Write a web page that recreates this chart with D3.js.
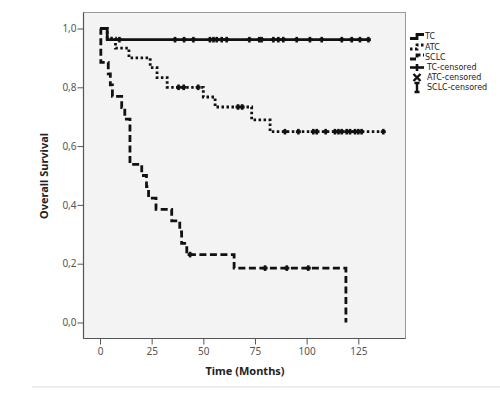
<!DOCTYPE html>
<html><head><meta charset="utf-8">
<script src="https://cdn.jsdelivr.net/npm/d3@7"></script>
<style>html,body{margin:0;padding:0;background:#fff;}svg{display:block;}</style>
</head><body>
<svg id="c" width="500" height="393"></svg>
<script>
// ---- data ----
const xTicks = [0, 25, 50, 75, 100, 125];
const yTicks = [0, 0.2, 0.4, 0.6, 0.8, 1.0];
const legendLabels = ["TC", "ATC", "SCLC", "TC-censored", "ATC-censored", "SCLC-censored"];

const tcTimes = [0, 3.5];
const tcSurv  = [1, 0.962];
const tcEnd   = 130;
const tcCensor = [9.4, 36.3, 40.7, 45.2, 53.2, 54.9, 56.5, 58.9, 61.3, 72.3, 77.1, 78.2, 83.9, 86.3, 88.7, 95.2, 101.6, 107.3, 117, 121.8, 125.8, 129.9];

const atcTimes = [0, 3.5, 7.5, 14, 24.3, 27.6, 32.5, 50, 55.7, 73.4, 82.3];
const atcSurv  = [1, 0.967, 0.933, 0.9, 0.867, 0.833, 0.8, 0.767, 0.733, 0.689, 0.649];
const atcEnd   = 138;
const atcCensor = [38, 40.5, 47.5, 66.8, 68.8, 89.5, 96, 103.2, 104.9, 109.2, 113.7, 115.4, 117, 119.4, 121, 123.4, 125, 126.6, 137.1];

const sclcTimes = [0, 0.4, 4, 5, 6, 10.5, 12, 14.5, 20.2, 22.5, 23.5, 27.1, 34.7, 38.6, 39.5, 42, 64.9, 119];
const sclcSurv  = [1, 0.885, 0.846, 0.808, 0.769, 0.731, 0.692, 0.538, 0.5, 0.462, 0.423, 0.385, 0.346, 0.308, 0.269, 0.231, 0.185, 0];
const sclcEnd   = 119;
const sclcCensor = [43.6, 79.9, 90.4, 100.8];

// ---- layout ----
const svg = d3.select("#c");
const frame = {l: 83.5, t: 12.5, r: 405.5, b: 338.5};
const x = d3.scaleLinear().domain([0, 125]).range([100, 358.3]);
const y = d3.scaleLinear().domain([0, 1]).range([322.5, 28.5]);
const font = "'Noto Sans', 'DejaVu Sans', sans-serif";
const legendFont = "'DejaVu Sans', sans-serif";

svg.append("rect").attr("x", frame.l).attr("y", frame.t)
  .attr("width", frame.r - frame.l).attr("height", frame.b - frame.t)
  .attr("fill", "#f3f3f3").attr("stroke", "#9a9a9a").attr("stroke-width", 1);
svg.append("line").attr("x1", frame.l).attr("x2", frame.l).attr("y1", frame.t).attr("y2", frame.b)
  .attr("stroke", "#555").attr("stroke-width", 1.2);
svg.append("line").attr("x1", frame.l).attr("x2", frame.r).attr("y1", frame.b).attr("y2", frame.b)
  .attr("stroke", "#555").attr("stroke-width", 1.2);

// axes
const yAxis = d3.axisLeft(y).tickValues(yTicks).tickSize(6).tickPadding(1)
  .tickFormat(d => d3.format(".1f")(d).replace(".", ","));
const gy = svg.append("g").attr("transform", `translate(${frame.l},0)`).call(yAxis);
const xAxis = d3.axisBottom(x).tickValues(xTicks).tickSize(6).tickPadding(3);
const gx = svg.append("g").attr("transform", `translate(0,${frame.b})`).call(xAxis);
[gx, gy].forEach(g => {
  g.select(".domain").remove();
  g.selectAll(".tick line").attr("stroke", "#555");
  g.selectAll(".tick text").attr("fill", "#555").style("font-family", font).style("font-size", "10px");
});

svg.append("text").attr("x", 245).attr("y", 375).attr("text-anchor", "middle")
  .style("font-family", font).style("font-size", "11px").style("font-weight", "bold").attr("fill", "#222")
  .text("Time (Months)");
svg.append("text").attr("transform", "translate(48,176) rotate(-90)").attr("text-anchor", "middle")
  .style("font-family", font).style("font-size", "11px").style("font-weight", "bold").attr("fill", "#222")
  .text("Overall Survival");

svg.append("line").attr("x1", 32).attr("x2", 500).attr("y1", 387).attr("y2", 387)
  .attr("stroke", "#dcdcdc").attr("stroke-width", 1);

// curves
const line = d3.line().x(d => x(d[0])).y(d => y(d[1])).curve(d3.curveStepAfter);
function pts(times, surv, end) {
  const p = times.map((t, i) => [t, surv[i]]);
  p.push([end, surv[surv.length - 1]]);
  return p;
}
function survAt(times, surv, t) {
  let s = surv[0];
  for (let i = 0; i < times.length; i++) if (times[i] <= t) s = surv[i];
  return s;
}
const series = [
  {times: tcTimes, surv: tcSurv, end: tcEnd, dash: null},
  {times: atcTimes, surv: atcSurv, end: atcEnd, dash: "2.5,2.5"},
  {times: sclcTimes, surv: sclcSurv, end: sclcEnd, dash: "7,3.5"}
];
const plot = svg.append("g");
series.forEach(s => {
  plot.append("path").datum(pts(s.times, s.surv, s.end)).attr("d", line)
    .attr("fill", "none").attr("stroke", "#111").attr("stroke-width", 2.8)
    .attr("stroke-dasharray", s.dash);
});

// censor marks
function plusMark(g, cx, cy) {
  g.append("line").attr("x1", cx).attr("x2", cx).attr("y1", cy - 2.8).attr("y2", cy + 2.8)
    .attr("stroke", "#111").attr("stroke-width", 2.6);
  g.append("line").attr("x1", cx - 2.5).attr("x2", cx + 2.5).attr("y1", cy).attr("y2", cy)
    .attr("stroke", "#111").attr("stroke-width", 2.8);
}
function xMark(g, cx, cy, r) {
  g.append("path").attr("d", `M${cx - r},${cy - r}L${cx + r},${cy + r}M${cx - r},${cy + r}L${cx + r},${cy - r}`)
    .attr("stroke", "#111").attr("stroke-width", 2.4);
}
function iMark(g, cx, cy, h) {
  g.append("path").attr("d", `M${cx},${cy - h}V${cy + h}M${cx - 2.5},${cy - h}H${cx + 2.5}M${cx - 2.5},${cy + h}H${cx + 2.5}`)
    .attr("stroke", "#111").attr("stroke-width", 2.4);
}
tcCensor.forEach(t => plusMark(plot, x(t), y(survAt(tcTimes, tcSurv, t))));
atcCensor.forEach(t => plusMark(plot, x(t), y(survAt(atcTimes, atcSurv, t))));
sclcCensor.forEach(t => plusMark(plot, x(t), y(survAt(sclcTimes, sclcSurv, t))));

// legend
const lg = svg.append("g");
const ly = [36.5, 47, 57, 67.5, 77.5, 87.5];
[null, "2.5,2.5", "6,2.5"].forEach((dash, i) => {
  lg.append("path").attr("d", `M410,${ly[i] + 2}H417V${ly[i] - 2}H424`)
    .attr("fill", "none").attr("stroke", "#111").attr("stroke-width", 2.8).attr("stroke-dasharray", dash);
});
lg.append("line").attr("x1", 410).attr("x2", 424).attr("y1", ly[3]).attr("y2", ly[3]).attr("stroke", "#111").attr("stroke-width", 2.6);
lg.append("line").attr("x1", 417).attr("x2", 417).attr("y1", ly[3] - 3.5).attr("y2", ly[3] + 3.5).attr("stroke", "#111").attr("stroke-width", 2.6);
xMark(lg, 417, ly[4], 3.5);
iMark(lg, 417, ly[5], 4.5);
legendLabels.forEach((t, i) => {
  lg.append("text").attr("x", i < 3 ? 425 : 427).attr("y", ly[i]).attr("dy", "0.35em")
    .style("font-family", legendFont).style("font-size", "8px").attr("fill", "#222").text(t);
});
</script>
</body></html>
